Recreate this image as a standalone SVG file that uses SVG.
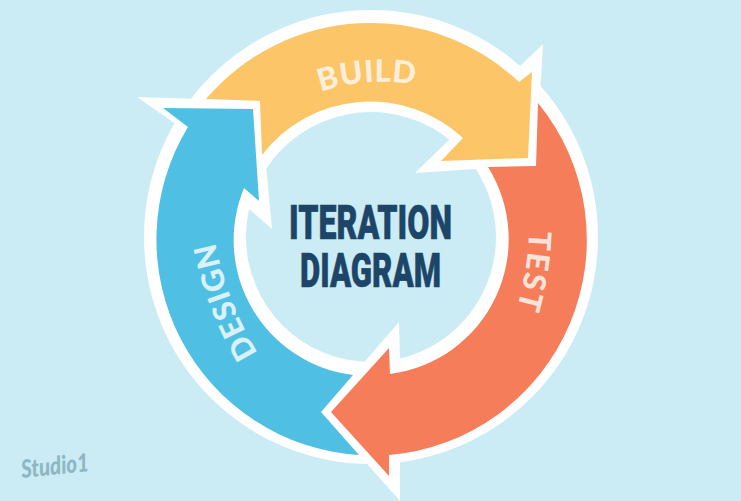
<svg xmlns="http://www.w3.org/2000/svg" width="741" height="501" viewBox="0 0 741 501">
<style>
.band{fill:#fff}
.label{font-family:"Lato","Liberation Sans",sans-serif;font-weight:900;font-size:31px;letter-spacing:1px}
.title{font-family:"Roboto","Liberation Sans",Arial,sans-serif;font-weight:900;font-size:49px;fill:#1C4568;stroke:#1C4568;stroke-width:.6px;text-anchor:middle}
</style>
<defs>
<path id="arcTop" d="M321,92 Q365,76 420,85"/>
<path id="arcRight" d="M529,231 Q528,275 512,325"/>
<path id="arcLeft" d="M258,353 Q226,302 213,232"/>
</defs>
<rect width="741" height="501" fill="#CBECF4"/>
<g id="white-outline">
<path class="band" fill-rule="evenodd" d="M144,237 A227 227 0 1 1 598,237 A227 227 0 1 1 144,237 Z M246,237 A125 125 0 1 0 496,237 A125 125 0 1 0 246,237 Z"/>
<polygon class="band" points="137,97 260,101 272,229 247,207 183,129"/>
<polygon class="band" points="543,44 536,165 415,173 451,138 518,68"/>
<polygon class="band" points="321,412 399,322 400,362 400,463 400,501"/>
</g>
<g id="build">
<path fill="#FCC568" d="M206,99 A216 216 0 0 1 519,82 L532,72 L528,158 L441,161 L463,138 A136 136 0 0 0 262,155 L260,101 Z"/>
<text class="label" fill="#FBEFDC" style="letter-spacing:.6px"><textPath href="#arcTop">BUILD</textPath></text>
</g>
<g id="test">
<path fill="#F57D5A" d="M538,103 A216 216 0 0 1 389,455 L389,476 L331,412 L389,348 L390,374 A136 136 0 0 0 488,167 L536,166 Z"/>
<text class="label" fill="#FBE3DA" style="letter-spacing:2px"><textPath href="#arcRight">TEST</textPath></text>
</g>
<g id="design">
<path fill="#4FBFE3" d="M163,108 L253,109 L259,201 L244,188 A136 136 0 0 0 353,375 L321,412 L359,455 A216 216 0 0 1 188,127 Z"/>
<text class="label" fill="#D9F1F8"><textPath href="#arcLeft">DESIGN</textPath></text>
</g>
<g id="title">
<text class="title" x="370.5" y="239" textLength="163" lengthAdjust="spacingAndGlyphs">ITERATION</text>
<text class="title" x="370.5" y="287" textLength="141" lengthAdjust="spacingAndGlyphs">DIAGRAM</text>
</g>
<g id="logo">
<text x="22" y="478" textLength="68" lengthAdjust="spacingAndGlyphs" transform="rotate(-6 22 478)" font-family="Lato,Liberation Sans,sans-serif" font-style="italic" font-weight="900" font-size="25" fill="#8FB7C3">Studio1</text>
</g>
</svg>
